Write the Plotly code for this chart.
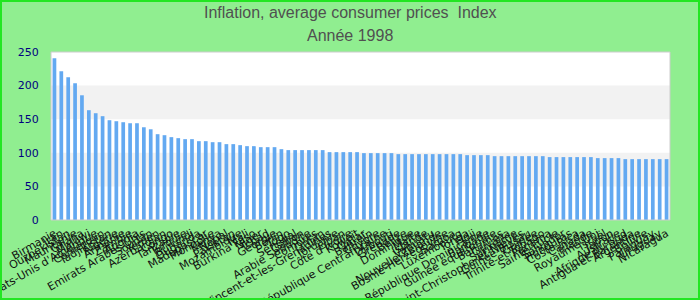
import plotly.graph_objects as go

countries = [
    "Birmanie", "Iran", "Ouzbékistan", "Mauritanie", "Ghana", "Malawi",
    "Etats-Unis d'Amérique", "Cameroun", "Tadjikistan", "Algérie", "Arménie",
    "Zambie", "Angola", "Emirats Arabes Unis", "Soudan", "Yémen",
    "Azerbaïdjan", "Congo", "Tanzanie", "Turquie", "Burundi", "Ouganda",
    "Madagascar", "Mongolie", "Kenya", "Népal", "Pakistan", "Mozambique",
    "Mali", "Burkina Faso", "Niger", "Tchad", "Géorgie", "Bénin", "Togo",
    "Sénégal", "Gabon", "Arabie Saoudite", "Comores", "Oman",
    "Saint-Vincent-et-les-Grenadines", "Jordanie", "Liban", "Côte d'Ivoire",
    "Koweït", "Qatar", "Bahreïn", "Chypre", "République Centrafricaine",
    "Djibouti", "Grenade", "Belize", "Dominique", "Malte", "Islande",
    "Vanuatu", "Nouvelle-Zélande", "Bosnie-Herzégovine", "Samoa",
    "Luxembourg", "Tonga", "Fidji", "République Dominicaine", "Barbade",
    "Guinée équatoriale", "Bahamas", "Guyana", "Suriname",
    "Saint-Christophe-et-Niévès", "Guinée-Bissau", "Guinée",
    "Trinité-et-Tobago", "Panama", "Sainte-Lucie", "Salvador", "Honduras",
    "Costa Rica", "Canada", "Irlande", "Royaume-Uni", "Israël", "Japon",
    "Australie", "Afrique du Sud", "Antigua-et-Barbuda", "Argentine",
    "Bolivie", "Paraguay", "Uruguay", "Nicaragua",
]

values = [
    240.6, 221.3, 212.4, 203.5, 185.6, 163.4, 158.9, 154.5, 148.5, 147.0,
    145.5, 144.0, 144.0, 138.0, 135.0, 127.7, 126.2, 123.3, 121.8, 120.3,
    120.3, 117.3, 117.3, 115.8, 115.8, 112.9, 112.9, 111.4, 109.9, 109.9,
    108.4, 108.4, 108.4, 105.4, 104.0, 104.0, 104.0, 104.0, 104.0, 104.0,
    101.0, 101.0, 101.0, 101.0, 101.0, 99.5, 99.5, 99.5, 99.5, 99.5,
    98.0, 98.0, 98.0, 98.0, 98.0, 98.0, 98.0, 98.0, 98.0, 98.0,
    96.5, 96.5, 96.5, 96.5, 95.0, 95.0, 95.0, 95.0, 95.0, 95.0,
    95.0, 95.0, 93.6, 93.6, 93.6, 93.6, 93.6, 93.6, 93.6, 92.1,
    92.1, 92.1, 92.1, 90.6, 90.6, 90.6, 90.6, 90.6, 90.6, 90.6,
]

y_ticks = [0, 50, 100, 150, 200, 250]
title_lines = ["Inflation, average consumer prices  Index", "Année 1998"]

W, H = 700, 300
ML, MR, MT, MB = 51, 30, 52, 80
pw = W - ML - MR
ph = H - MT - MB

fig = go.Figure(go.Bar(
    x=countries, y=values,
    marker=dict(color="#63a9f1", line=dict(width=0)),
))

shapes = []
for lo, hi in [(50, 100), (150, 200)]:
    shapes.append(dict(type="rect", xref="paper", yref="y", x0=0, x1=1, y0=lo, y1=hi,
                       fillcolor="#f2f2f2", line=dict(width=0), layer="below"))
shapes.append(dict(type="rect", xref="paper", yref="paper", x0=0, x1=1, y0=0, y1=1,
                   line=dict(color="#cccccc", width=1), layer="above"))
shapes.append(dict(type="rect", xref="paper", yref="paper",
                   x0=(-ML + 1) / pw, x1=(W - ML - 1) / pw,
                   y0=(-MB + 1) / ph, y1=(H - MB - 1) / ph,
                   line=dict(color="#22e622", width=2), layer="above"))

title_y_px = [13, 36]
annotations = []
for txt, ypx in zip(title_lines, title_y_px):
    annotations.append(dict(
        text=txt, xref="paper", yref="paper",
        x=(W / 2 - ML) / pw, y=(H - MB - ypx) / ph,
        xanchor="center", yanchor="middle", showarrow=False,
        font=dict(family="Liberation Sans, Arial", size=16, color="#505050"),
    ))

fig.update_layout(
    template="none",
    width=W, height=H,
    margin=dict(l=ML, r=MR, t=MT, b=MB, pad=0),
    paper_bgcolor="#90ee90",
    plot_bgcolor="#ffffff",
    bargap=0.46,
    showlegend=False,
    shapes=shapes,
    annotations=annotations,
    xaxis=dict(
        type="category",
        tickmode="array", tickvals=countries, ticktext=countries,
        tickangle=-30,
        tickfont=dict(family="DejaVu Sans, Verdana", size=11, color="#111111"),
        showgrid=False, zeroline=False, showline=False,
        ticks="outside", ticklen=2, tickcolor="rgba(0,0,0,0)",
        automargin=False,
        range=[-0.5, len(countries) - 0.5],
    ),
    yaxis=dict(
        range=[0, 250],
        tickmode="array", tickvals=y_ticks,
        tickfont=dict(family="DejaVu Sans, Verdana", size=11, color="#000080"),
        showgrid=False, zeroline=False, showline=False,
        ticks="outside", ticklen=9, tickcolor="rgba(0,0,0,0)",
        automargin=False,
    ),
)

fig.write_html("out.html")
